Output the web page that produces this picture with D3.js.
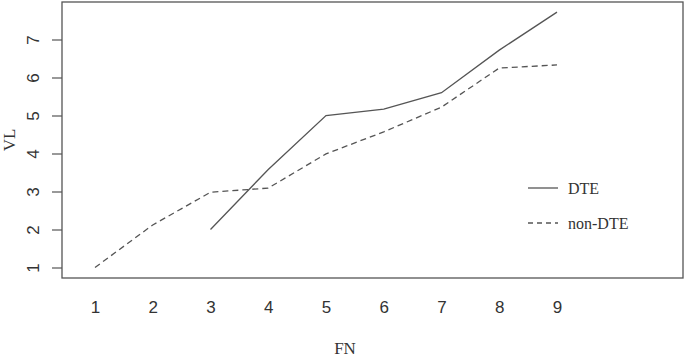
<!DOCTYPE html>
<html>
<head>
<meta charset="utf-8">
<script src="https://cdn.jsdelivr.net/npm/d3@7"></script>
<style>
  body { margin: 0; background: #fff; }
  text { fill: #333; }
</style>
</head>
<body>
<div id="chart"></div>
<script>
// data
const fn = [1, 2, 3, 4, 5, 6, 7, 8, 9];
const dte = [null, null, 2.0, 3.58, 5.0, 5.17, 5.6, 6.72, 7.72];
const nonDte = [1.0, 2.12, 2.98, 3.09, 3.99, 4.57, 5.22, 6.25, 6.33];
const yTicks = [1, 2, 3, 4, 5, 6, 7];
const seriesNames = ["DTE", "non-DTE"];

const width = 685, height = 359;
const box = { left: 62, right: 683, top: 2, bottom: 278 };
const sans = "Liberation Sans, Arial, sans-serif";
const serif = "Liberation Serif, Times New Roman, serif";

const x = d3.scaleLinear().domain([1, 9]).range([95, 557]);
const y = d3.scaleLinear().domain([1, 7]).range([267.5, 39.5]);

const svg = d3.select("#chart").append("svg")
  .attr("width", width).attr("height", height);

// plot frame
svg.append("rect")
  .attr("x", box.left).attr("y", box.top)
  .attr("width", box.right - box.left).attr("height", box.bottom - box.top)
  .attr("fill", "none").attr("stroke", "#555").attr("stroke-width", 1.3);

// y axis, labels rotated like R's default las=0
const yAx = svg.append("g")
  .attr("transform", `translate(${box.left},0)`)
  .call(d3.axisLeft(y).tickValues(yTicks).tickSize(10).tickFormat(d3.format("d")))
  .call(g => g.select(".domain").remove());
yAx.selectAll(".tick line").attr("stroke", "#555").attr("stroke-width", 1.2);
yAx.selectAll(".tick text")
  .attr("font-family", sans).attr("font-size", 17).attr("fill", "#333")
  .attr("text-anchor", "middle")
  .attr("x", 0).attr("y", 0).attr("dy", "0.35em")
  .attr("transform", "translate(-29,0) rotate(-90)");

// x labels (no tick marks)
const xAx = svg.append("g")
  .attr("transform", `translate(0,${box.bottom})`)
  .call(d3.axisBottom(x).tickValues(fn).tickSize(0).tickPadding(23).tickFormat(d3.format("d")))
  .call(g => g.select(".domain").remove());
xAx.selectAll(".tick text")
  .attr("font-family", sans).attr("font-size", 17).attr("fill", "#333");

// axis titles
svg.append("text")
  .attr("x", 345).attr("y", 354)
  .attr("text-anchor", "middle")
  .attr("font-family", serif).attr("font-size", 17).text("FN");
svg.append("text")
  .attr("transform", "translate(15,140) rotate(-90)")
  .attr("text-anchor", "middle")
  .attr("font-family", serif).attr("font-size", 17).text("VL");

// lines
const line = d3.line()
  .defined(d => d.v != null)
  .x(d => x(d.f)).y(d => y(d.v));

svg.append("path")
  .datum(fn.map((f, i) => ({ f, v: dte[i] })))
  .attr("d", line).attr("fill", "none")
  .attr("stroke", "#555").attr("stroke-width", 1.3);

svg.append("path")
  .datum(fn.map((f, i) => ({ f, v: nonDte[i] })))
  .attr("d", line).attr("fill", "none")
  .attr("stroke", "#555").attr("stroke-width", 1.3)
  .attr("stroke-dasharray", "6,4");

// legend
const leg = svg.append("g");
seriesNames.forEach((name, i) => {
  const ly = 188 + i * 35;
  leg.append("line")
    .attr("x1", 528).attr("x2", 558).attr("y1", ly).attr("y2", ly)
    .attr("stroke", "#555").attr("stroke-width", 1.3)
    .attr("stroke-dasharray", i === 1 ? "5,4" : null);
  leg.append("text")
    .attr("x", 568).attr("y", ly).attr("dy", "0.35em")
    .attr("font-family", serif).attr("font-size", 16).text(name);
});
</script>
</body>
</html>
